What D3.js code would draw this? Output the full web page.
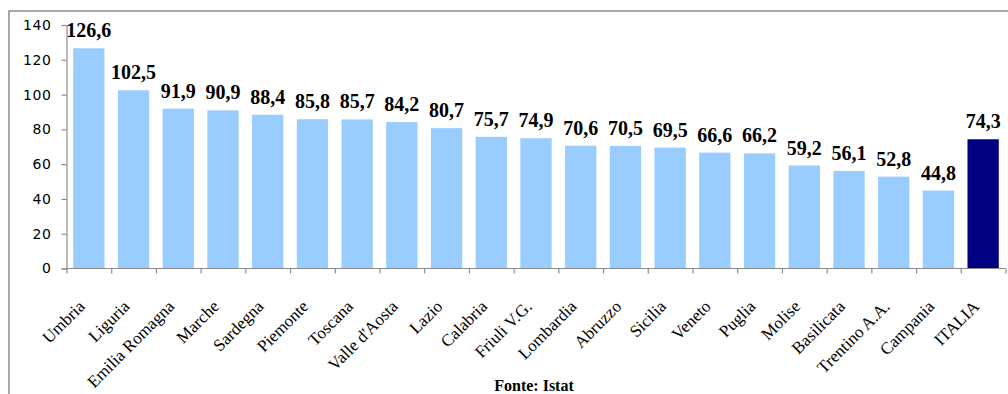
<!DOCTYPE html>
<html>
<head>
<meta charset="utf-8">
<script src="https://cdn.jsdelivr.net/npm/d3@7"></script>
<style>
html,body{margin:0;padding:0;background:#fff;}
svg{display:block;}
</style>
</head>
<body>
<svg id="chart" width="1008" height="394"></svg>
<script>
const categories = ["Umbria","Liguria","Emilia Romagna","Marche","Sardegna","Piemonte","Toscana","Valle d'Aosta","Lazio","Calabria","Friuli V.G.","Lombardia","Abruzzo","Sicilia","Veneto","Puglia","Molise","Basilicata","Trentino A.A.","Campania","ITALIA"];
const values = [126.6,102.5,91.9,90.9,88.4,85.8,85.7,84.2,80.7,75.7,74.9,70.6,70.5,69.5,66.6,66.2,59.2,56.1,52.8,44.8,74.3];
const highlight = ["ITALIA"];
const yTicks = [0,20,40,60,80,100,120,140];
const sourceText = "Fonte: Istat";

const svg = d3.select("#chart");
const W = 1008, H = 394;
const pLeft = 66.5, pRight = 1005.5, pTop = 25, pBottom = 268.5;

// outer frame
svg.append("rect").attr("x",9).attr("y",11).attr("width",W+20).attr("height",H+20)
  .attr("fill","none").attr("stroke","#8c8c8c").attr("stroke-width",1.5);

const x = d3.scaleBand().domain(categories).range([pLeft,pRight]).paddingInner(0.3).paddingOuter(0.15);
const y = d3.scaleLinear().domain([0,140]).range([pBottom,pTop]);

// bars
svg.append("g").selectAll("rect").data(categories).join("rect")
  .attr("x",d=>x(d)).attr("width",x.bandwidth())
  .attr("y",(d,i)=>y(values[i])).attr("height",(d,i)=>y(0)-y(values[i]))
  .attr("fill",d=>highlight.includes(d)?"#000080":"#99ccff");

// y axis
const yAxis = svg.append("g").attr("transform",`translate(${pLeft},0)`)
  .call(d3.axisLeft(y).tickValues(yTicks).tickSize(5).tickPadding(10).tickFormat(d3.format("d")));
yAxis.select(".domain").attr("stroke","#8c8c8c").attr("stroke-width",1.2);
yAxis.selectAll(".tick line").attr("stroke","#8c8c8c").attr("stroke-width",1.2);
yAxis.selectAll(".tick text").attr("font-family","'DejaVu Sans', sans-serif").attr("font-size",14).attr("letter-spacing","0.6px").attr("fill","#000");

// x axis with ticks at band boundaries
const xb = d3.scaleLinear().domain([0,categories.length]).range([pLeft,pRight]);
const xAxis = svg.append("g").attr("transform",`translate(0,${pBottom})`)
  .call(d3.axisBottom(xb).tickValues(d3.range(categories.length+1)).tickSize(5).tickFormat(""));
xAxis.select(".domain").attr("stroke","#8c8c8c").attr("stroke-width",1.2).attr("d",`M${pLeft},0H${pRight}`);
xAxis.selectAll(".tick line").attr("stroke","#8c8c8c").attr("stroke-width",1.2);

// category labels
svg.append("g").selectAll("text").data(categories).join("text")
  .attr("transform",d=>`translate(${x(d)+x.bandwidth()/2-3},${pBottom+39}) rotate(-45)`)
  .attr("text-anchor","end")
  .attr("font-family","'Liberation Serif', 'Times New Roman', serif")
  .attr("font-size",17).attr("fill","#000")
  .text(d=>d);

// value labels
const fmt = v => v.toFixed(1).replace(".",",");
svg.append("g").selectAll("text").data(categories).join("text")
  .attr("x",d=>x(d)+x.bandwidth()/2)
  .attr("y",(d,i)=>y(values[i])-11)
  .attr("text-anchor","middle")
  .attr("font-family","'Liberation Serif', 'Times New Roman', serif")
  .attr("font-weight","bold").attr("font-size",20).attr("fill","#000")
  .text((d,i)=>fmt(values[i]));

// source
svg.append("text").attr("x",534).attr("y",391).attr("text-anchor","middle")
  .attr("font-family","'Liberation Serif', 'Times New Roman', serif")
  .attr("font-weight","bold").attr("font-size",16).text(sourceText);
</script>
</body>
</html>
